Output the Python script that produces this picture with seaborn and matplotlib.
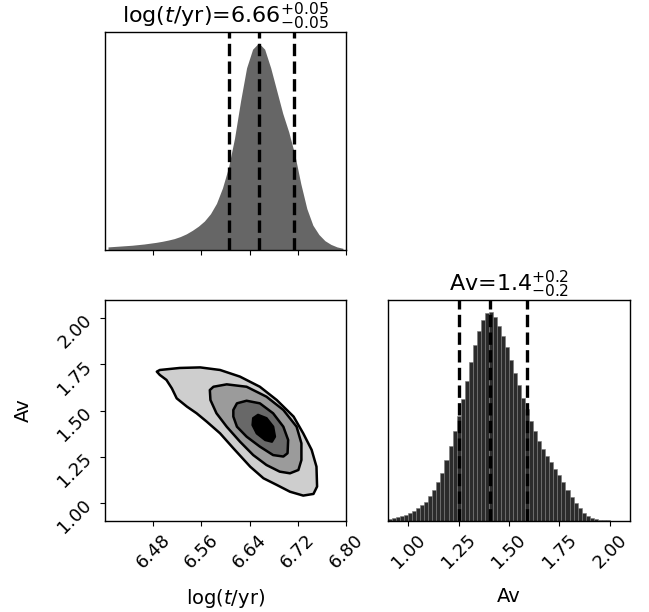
import numpy as np
import matplotlib
matplotlib.use("Agg")
import matplotlib.pyplot as plt
import seaborn as sns

# 1D marginal of log(t/yr): bin edges 6.40..6.80 step 0.01, relative heights
logt_edges = [6.40 + 0.01 * i for i in range(41)]
logt_heights = [0.015, 0.017, 0.019, 0.021, 0.023, 0.026, 0.029, 0.033, 0.037, 0.042,
                0.048, 0.055, 0.065, 0.078, 0.095, 0.115, 0.140, 0.175, 0.225, 0.300,
                0.400, 0.540, 0.720, 0.880, 0.970, 1.000, 0.970, 0.880, 0.770, 0.660,
                0.570, 0.460, 0.320, 0.200, 0.120, 0.075, 0.045, 0.027, 0.015, 0.008]
logt_quantiles = [6.605, 6.655, 6.713]

# 1D marginal of Av: bin edges 0.90..2.10 step 0.02
av_edges = [0.90 + 0.02 * i for i in range(61)]
av_heights = [0.010, 0.013, 0.017, 0.022, 0.030, 0.038, 0.048, 0.060, 0.075, 0.093,
              0.118, 0.148, 0.185, 0.230, 0.290, 0.360, 0.430, 0.500, 0.585, 0.670,
              0.760, 0.840, 0.910, 0.960, 0.995, 1.000, 0.975, 0.935, 0.885, 0.830,
              0.770, 0.710, 0.650, 0.590, 0.535, 0.480, 0.430, 0.385, 0.345, 0.310,
              0.280, 0.250, 0.220, 0.185, 0.150, 0.115, 0.085, 0.060, 0.040, 0.025,
              0.015, 0.009, 0.006, 0.004, 0.003, 0.002, 0.001, 0.001, 0.000, 0.000]
av_quantiles = [1.250, 1.405, 1.587]

# 2D contour outlines (outer -> inner)
c1_x = [6.486, 6.491, 6.524, 6.558, 6.591, 6.624, 6.657, 6.685, 6.713, 6.729, 6.743, 6.751,
        6.752, 6.746, 6.729, 6.707, 6.685, 6.663, 6.641, 6.613, 6.591, 6.569, 6.552, 6.536,
        6.519, 6.511, 6.502, 6.491]
c1_y = [1.711, 1.720, 1.731, 1.734, 1.720, 1.684, 1.629, 1.557, 1.467, 1.376, 1.286, 1.195,
        1.087, 1.047, 1.038, 1.059, 1.096, 1.132, 1.195, 1.295, 1.376, 1.439, 1.485, 1.521,
        1.566, 1.620, 1.666, 1.693]
c2_x = [6.574, 6.580, 6.602, 6.635, 6.668, 6.696, 6.718, 6.726, 6.726, 6.721, 6.707, 6.690,
        6.668, 6.646, 6.624, 6.602, 6.585, 6.575]
c2_y = [1.611, 1.629, 1.642, 1.629, 1.575, 1.503, 1.412, 1.322, 1.231, 1.177, 1.159, 1.168,
        1.204, 1.258, 1.331, 1.412, 1.485, 1.557]
c3_x = [6.613, 6.619, 6.635, 6.657, 6.679, 6.696, 6.704, 6.703, 6.696, 6.679, 6.657, 6.635,
        6.619, 6.613]
c3_y = [1.503, 1.539, 1.553, 1.539, 1.485, 1.412, 1.340, 1.268, 1.250, 1.258, 1.304, 1.358,
        1.412, 1.467]
c4_x = [6.646, 6.654, 6.668, 6.679, 6.682, 6.677, 6.666, 6.652, 6.645]
c4_y = [1.458, 1.476, 1.458, 1.412, 1.358, 1.331, 1.340, 1.376, 1.421]
contour_colors = ["#cecece", "#9b9b9b", "#686868", "#000000"]

logt_ticks = [6.48, 6.56, 6.64, 6.72, 6.80]
av_ticks = [1.00, 1.25, 1.50, 1.75, 2.00]
logt_label = "log($t$/yr)"
av_label = "Av"
logt_title = r"log($t$/yr)=$6.66^{+0.05}_{-0.05}$"
av_title = r"Av=$1.4^{+0.2}_{-0.2}$"

W, H = 649, 612
fig = plt.figure(figsize=(W / 100, H / 100), dpi=100)

def box(l, t, r, b):
    return [l / W, 1 - b / H, (r - l) / W, (b - t) / H]

ax_t = fig.add_axes(box(105, 32, 346, 250))
ax_c = fig.add_axes(box(105, 300, 346, 521))
ax_a = fig.add_axes(box(388, 300, 630, 521))

# top: log t histogram (smooth outline)
centers = [(a + b) / 2 for a, b in zip(logt_edges[:-1], logt_edges[1:])]
sns.histplot(x=centers, weights=logt_heights, bins=logt_edges, ax=ax_t, element="poly",
             color="#666666", linewidth=0, alpha=1)
for q in logt_quantiles:
    ax_t.axvline(q, color="black", ls="--", lw=2.4)
ax_t.set_xlim(6.40, 6.80)
ax_t.set_ylim(0, 1.053 * max(logt_heights))
ax_t.set_xticks(logt_ticks)
ax_t.set_xticklabels([])
ax_t.set_yticks([])
ax_t.set_xlabel("")
ax_t.set_ylabel("")
ax_t.set_title(logt_title, fontsize=16, pad=4)

# bottom-right: Av histogram
centers = [(a + b) / 2 for a, b in zip(av_edges[:-1], av_edges[1:])]
sns.histplot(x=centers, weights=av_heights, bins=av_edges, ax=ax_a,
             color="#2b2b2b", edgecolor="#7a7a7a", linewidth=0.4, alpha=1)
for q in av_quantiles:
    ax_a.axvline(q, color="black", ls="--", lw=2.4)
ax_a.set_xlim(0.9, 2.1)
ax_a.set_ylim(0, 1.057 * max(av_heights))
ax_a.set_xticks(av_ticks)
ax_a.set_xticklabels([f"{v:.2f}" for v in av_ticks], rotation=45, fontsize=13)
ax_a.set_yticks([])
ax_a.set_ylabel("")
ax_a.set_xlabel(av_label, fontsize=14)
ax_a.xaxis.set_label_coords(0.5, -0.30)
ax_a.set_title(av_title, fontsize=16, pad=4)

# bottom-left: 2D contours
for cx, cy, col in zip([c1_x, c2_x, c3_x, c4_x], [c1_y, c2_y, c3_y, c4_y], contour_colors):
    ax_c.fill(cx, cy, facecolor=col, edgecolor="black", lw=1.8, joinstyle="round")
ax_c.set_xlim(6.40, 6.80)
ax_c.set_ylim(0.9, 2.1)
ax_c.set_xticks(logt_ticks)
ax_c.set_xticklabels([f"{v:.2f}" for v in logt_ticks], rotation=45, fontsize=13)
ax_c.set_yticks(av_ticks)
ax_c.set_yticklabels([f"{v:.2f}" for v in av_ticks], rotation=45, fontsize=13)
ax_c.set_xlabel(logt_label, fontsize=14)
ax_c.set_ylabel(av_label, fontsize=14)
ax_c.xaxis.set_label_coords(0.5, -0.30)
ax_c.yaxis.set_label_coords(-0.30, 0.5)

for ax in (ax_t, ax_c, ax_a):
    for s in ax.spines.values():
        s.set_color("black")
        s.set_linewidth(1)

fig.savefig("out.png", dpi=100)
